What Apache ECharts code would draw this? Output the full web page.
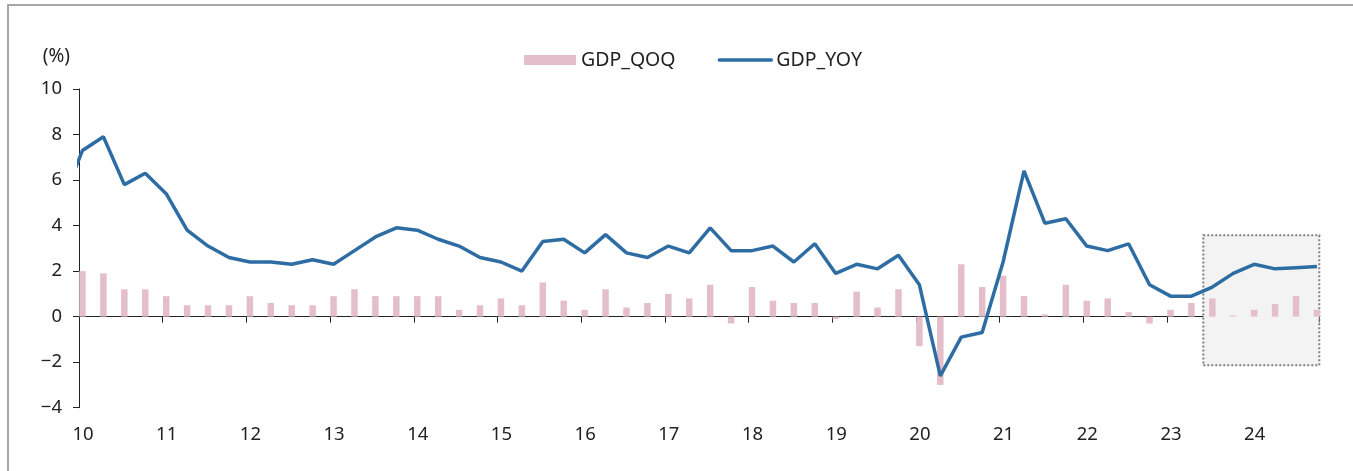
<!doctype html>
<html>
<head>
<meta charset="UTF-8">
<title>GDP</title>
<script src="https://cdn.jsdelivr.net/npm/echarts@6/dist/echarts.min.js"></script>
<style>
html,body{margin:0;padding:0;background:#fff;}
#chart{width:1353px;height:471px;}
</style>
</head>
<body>
<div id="chart"></div>
<script type="text/javascript">
// 분기 (2009Q4 ~ 2024Q4), 2009Q4는 선 시작부분만 (축 밖에서 잘림)
var quarters = [];
quarters.push('2009Q4');
for (var y = 2010; y <= 2024; y++) {
	for (var q = 1; q <= 4; q++) quarters.push(y + 'Q' + q);
}

// 전년동기비 (2009Q4 ~ 2024Q4)
var gdpYoy = [5.0,
	7.3, 7.9, 5.8, 6.3,
	5.4, 3.8, 3.1, 2.6,
	2.4, 2.4, 2.3, 2.5,
	2.3, 2.9, 3.5, 3.9,
	3.8, 3.4, 3.1, 2.6,
	2.4, 2.0, 3.3, 3.4,
	2.8, 3.6, 2.8, 2.6,
	3.1, 2.8, 3.9, 2.9,
	2.9, 3.1, 2.4, 3.2,
	1.9, 2.3, 2.1, 2.7,
	1.4, -2.6, -0.9, -0.7,
	2.4, 6.4, 4.1, 4.3,
	3.1, 2.9, 3.2, 1.4,
	0.9, 0.9, 1.3, 1.9,
	2.3, 2.1, 2.15, 2.2];

// 전기비 (2010Q1 ~ 2024Q4)
var gdpQoq = [
	2.0, 1.9, 1.2, 1.2,
	0.9, 0.5, 0.5, 0.5,
	0.9, 0.6, 0.5, 0.5,
	0.9, 1.2, 0.9, 0.9,
	0.9, 0.9, 0.3, 0.5,
	0.8, 0.5, 1.5, 0.7,
	0.3, 1.2, 0.4, 0.6,
	1.0, 0.8, 1.4, -0.3,
	1.3, 0.7, 0.6, 0.6,
	-0.1, 1.1, 0.4, 1.2,
	-1.3, -3.0, 2.3, 1.3,
	1.8, 0.9, 0.1, 1.4,
	0.7, 0.8, 0.2, -0.3,
	0.3, 0.6, 0.8, 0.05,
	0.3, 0.55, 0.9, 0.3];

// 축 눈금 라벨
var yearLabels = ['10','11','12','13','14','15','16','17','18','19','20','21','22','23','24'];
var yTickLabels = {'-4':'\u22124', '-2':'\u22122', '0':'0', '2':'2', '4':'4', '6':'6', '8':'8', '10':'10'};

// 전망 구간 박스 [x시작, x끝, y위, y아래]
var forecastBox = [2023.434, 2024.82, 3.57, -2.14];

// 분기 문자열 -> 연도 소수 (분기 첫달 중순)
function qToX(s) {
	var yr = parseInt(s.substr(0, 4), 10);
	var qq = parseInt(s.substr(5, 1), 10);
	return yr + (qq - 1) / 4 + 0.5 / 12;
}

var lineData = [];
for (var i = 0; i < quarters.length; i++) {
	lineData.push([qToX(quarters[i]), gdpYoy[i]]);
}
var barData = [];
for (var j = 0; j < gdpQoq.length; j++) {
	barData.push([qToX(quarters[j + 1]), gdpQoq[j]]);
}

var fontFam = '"Noto Sans", sans-serif';
var chart = echarts.init(document.getElementById('chart'), null, {renderer: 'canvas'});
var option = {
	animation: false,
	backgroundColor: '#fff',
	graphic: [{
		type: 'rect',
		shape: {x: 8, y: 5, width: 1400, height: 520},
		style: {fill: 'none', stroke: '#a6a6a6', lineWidth: 2},
		silent: true,
		z: 100
	}],
	legend: {
		left: 519,
		top: 45,
		itemWidth: 52,
		itemHeight: 10,
		itemGap: 42,
		textStyle: {color: '#222', fontSize: 19.5, fontFamily: fontFam},
		data: [
			{name: 'GDP_QOQ', icon: 'rect'},
			{name: 'GDP_YOY', itemStyle: {opacity: 0}, lineStyle: {width: 3.5, cap: 'round', color: '#2e6ca4'}}
		]
	},
	grid: {
		left: 79,
		right: 33.7,
		top: 89,
		bottom: 63.3,
		containLabel: false
	},
	xAxis: [{
		type: 'value',
		min: 2010,
		max: 2024.82,
		interval: 1,
		axisLine: {show: true, onZero: true, lineStyle: {color: '#222', width: 1}},
		axisTick: {show: true, length: 6, lineStyle: {color: '#222'}},
		axisLabel: {show: false},
		splitLine: {show: false}
	}, {
		type: 'value',
		min: 2010,
		max: 2024.82,
		interval: 1,
		position: 'bottom',
		axisLine: {show: false, onZero: false},
		axisTick: {show: false},
		splitLine: {show: false},
		axisLabel: {
			show: true,
			margin: 18,
			padding: [0, 0, 0, 8],
			color: '#222',
			fontSize: 18.5,
			fontFamily: fontFam,
			formatter: function (v) {
				var k = Math.round(v) - 2010;
				if (Math.abs(v - Math.round(v)) > 1e-6) return '';
				return yearLabels[k] || '';
			}
		}
	}],
	yAxis: {
		type: 'value',
		min: -4,
		max: 10,
		interval: 2,
		name: '(%)',
		nameLocation: 'end',
		nameGap: 32,
		nameTextStyle: {color: '#222', fontSize: 19, fontFamily: fontFam, align: 'right', verticalAlign: 'middle', padding: [0, 9, 0, 0]},
		axisLine: {show: true, lineStyle: {color: '#222', width: 1}},
		axisTick: {show: true, length: 6, lineStyle: {color: '#222'}},
		axisLabel: {
			margin: 17,
			color: '#222',
			fontSize: 18.5,
			fontFamily: fontFam,
			formatter: function (v) { return yTickLabels[String(v)]; }
		},
		splitLine: {show: false}
	},
	series: [{
		name: 'GDP_QOQ',
		type: 'bar',
		xAxisIndex: 0,
		barWidth: 6.5,
		itemStyle: {color: '#e4becb'},
		data: barData,
		markArea: {
			silent: true,
			itemStyle: {color: '#f3f3f3', opacity: 1, borderColor: '#7f7f7f', borderWidth: 2, borderType: 'dotted'},
			data: [[
				{xAxis: forecastBox[0], yAxis: forecastBox[2]},
				{xAxis: forecastBox[1], yAxis: forecastBox[3]}
			]]
		},
		z: 2
	}, {
		name: 'GDP_YOY',
		type: 'line',
		xAxisIndex: 0,
		symbol: 'none',
		clip: true,
		lineStyle: {color: '#2e6ca4', width: 3.5},
		itemStyle: {color: '#2e6ca4'},
		data: lineData,
		z: 3
	}]
};
chart.setOption(option);
</script>
</body>
</html>
